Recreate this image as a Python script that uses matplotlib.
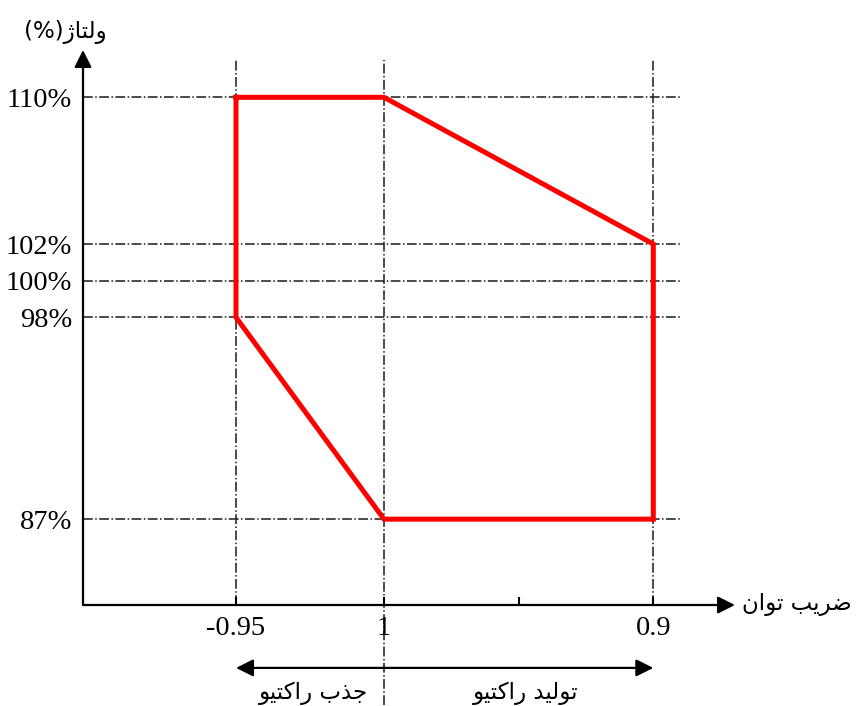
import matplotlib
matplotlib.use('Agg')
import matplotlib.pyplot as plt

# power factor ticks (non-linear axis, placed by position)
pf_labels = ['-0.95', '1', '', '0.9']
pf_pos = [-1.0, 0.0, 0.91, 1.82]

# voltage levels (%)
v_levels = [110, 102, 100, 98, 87]
v_labels = ['110%', '102%', '100%', '98%', '87%']

# operating boundary (pf position, voltage %)
bound_pf = [-1.0, 0.0, 1.82, 1.82, 0.0, -1.0, -1.0]
bound_v = [110, 110, 102, 87, 87, 98, 110]

# persian labels, pre-shaped in visual order (matplotlib has no bidi)
rakt = '\uFEEE\uFBFF\uFE98\uFB90\uFE8D\uFEAD'
txt_volt = '(%)' + '\uFB8A\uFE8E\uFE98\uFEDF\uFEED'
txt_pf = '\uFEE5\uFE8D\uFEEE\uFE97 \uFE90\uFBFE\uFEAE\uFEBF'
txt_abs = rakt + ' ' + '\uFE8F\uFEAC\uFE9F'
txt_gen = rakt + ' ' + '\uFEAA\uFBFF\uFEDF\uFEEE\uFE97'

fig = plt.figure(figsize=(8.59, 7.06), dpi=100)
W, H = 859.0, 706.0
ax = fig.add_axes([83/W, 1-605/H, (735-83)/W, (605-50)/H])
ax.set_xlim(-2.034, 2.372)
ax.set_ylim(82.32, 112.58)
for s in ax.spines.values():
    s.set_visible(False)

# axes with arrows
arr = dict(arrowstyle='-|>', lw=1.6, color='black', mutation_scale=26, shrinkA=0, shrinkB=0)
ax.annotate('', xy=(1, 0), xytext=(0, 0), xycoords='axes fraction', arrowprops=arr)
ax.annotate('', xy=(0, 1), xytext=(0, 0), xycoords='axes fraction', arrowprops=arr)

gl = dict(color='#1a1a1a', lw=1.1, ls='-.', clip_on=False, zorder=1)
# horizontal guides
for v in v_levels:
    ax.plot([-2.034, 2.0], [v, v], **gl)
# vertical guides
for i in [0, 1, 3]:
    ybot = 76.87 if i == 1 else 82.32
    ax.plot([pf_pos[i], pf_pos[i]], [ybot, 112.04], **gl)

ax.plot(bound_pf, bound_v, color='#ff0000', lw=3.6, solid_joinstyle='miter', zorder=3)

ax.set_xticks(pf_pos)
ax.set_xticklabels(pf_labels, fontfamily='Liberation Serif', fontsize=20.5)
ax.set_yticks(v_levels)
ax.set_yticklabels(v_labels, fontfamily='Liberation Serif', fontsize=20.5)
ax.tick_params(axis='x', direction='in', length=6, width=1.5, pad=8)
ax.tick_params(axis='y', length=0, pad=8)

# reactive power arrow below axis
arr2 = dict(arr, arrowstyle='<|-|>')
ax.annotate('', xy=(pf_pos[0], 78.89), xytext=(pf_pos[3], 78.89), xycoords='data',
            arrowprops=arr2, annotation_clip=False)

pf = dict(fontfamily='DejaVu Sans', fontsize=16.5, color='black', clip_on=False)
ax.text(-0.108, 77.5, txt_abs, ha='right', va='center', **pf)
ax.text(0.60, 77.5, txt_gen, ha='left', va='center', **pf)
ax.text(2.42, 82.32, txt_pf, ha='left', va='center', **pf)
ax.text(-2.155, 113.57, txt_volt, ha='center', va='center', **pf)

plt.savefig('out.png', dpi=100)
